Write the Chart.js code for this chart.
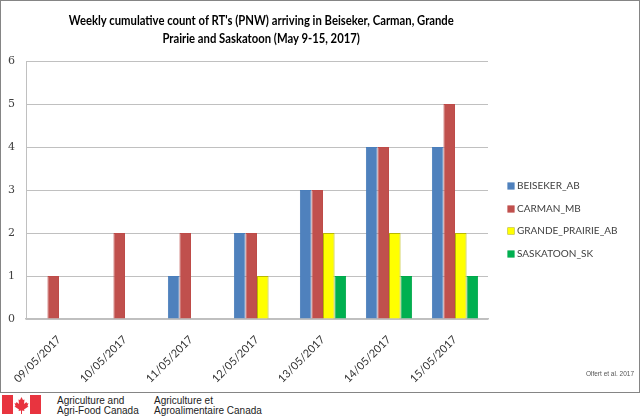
<!DOCTYPE html>
<html>
<head>
<meta charset="utf-8">
<script src="https://cdn.jsdelivr.net/npm/chart.js@4.4.1/dist/chart.umd.min.js"></script>
<style>
  body { margin: 0; background: #fff; width: 640px; height: 417px; overflow: hidden; position: relative; }
  #frame { position: absolute; left: 0; top: 0; width: 640px; height: 393px; box-sizing: border-box; border: 1px solid #858585; }
  #chart { position: absolute; left: 0; top: 0; }
  #title { position: absolute; left: 0; width: 522px; top: 11px; text-align: center; font: bold 13.5px Lato, sans-serif; line-height: 18px; color: #000; }
  #title span { display: inline-block; white-space: nowrap; transform-origin: center; }
  #legend { position: absolute; left: 508px; top: 178px; font: 10px Lato, sans-serif; color: #404040; }
  #legend div { height: 22.5px; line-height: 15px; white-space: nowrap; }
  #legend span { display: inline-block; width: 6px; height: 6px; margin-right: 3px; vertical-align: 0px; }
  #credit { position: absolute; right: 6px; top: 370px; font: 6.5px "Liberation Sans", sans-serif; color: #555; }
  .aafc { position: absolute; top: 396px; font: 10px "Liberation Sans", Arial, sans-serif; line-height: 10px; color: #222; }
</style>
</head>
<body>
<div id="frame"></div>
<canvas id="chart" width="640" height="392"></canvas>
<div id="title"><span>Weekly cumulative count of RT's (PNW) arriving in Beiseker, Carman, Grande</span><br><span>Prairie and Saskatoon (May 9-15, 2017)</span></div>
<div id="legend"></div>
<div id="credit">Olfert et al. 2017</div>
<svg style="position:absolute;left:2px;top:395px" width="39" height="19" viewBox="0 0 39 19">
  <rect x="0" y="0" width="11" height="19" fill="#e8343f"/>
  <rect x="28" y="0" width="11" height="19" fill="#e8343f"/>
  <path d="M19.5 2 L21 5 L22.5 4.5 L22 9 L24.5 7 L25 8.5 L26.5 8 L25.5 11 L26.5 11.5 L22 14.5 L22.5 16 L20 15.5 L20 19 L19 19 L19 15.5 L16.5 16 L17 14.5 L12.5 11.5 L13.5 11 L12.5 8 L14 8.5 L14.5 7 L17 9 L16.5 4.5 L18 5 Z" fill="#e8343f"/>
</svg>
<div class="aafc" style="left:57px">Agriculture and<br>Agri-Food Canada</div>
<div class="aafc" style="left:154px">Agriculture et<br>Agroalimentaire Canada</div>
<script>
// dates on the x axis
const dates = ['09/05/2017', '10/05/2017', '11/05/2017', '12/05/2017', '13/05/2017', '14/05/2017', '15/05/2017'];

// cumulative counts per station
const beiseker = [0, 0, 1, 2, 3, 4, 4];
const carman = [1, 2, 2, 2, 3, 4, 5];
const grandePrairie = [0, 0, 0, 1, 2, 2, 2];
const saskatoon = [0, 0, 0, 0, 1, 1, 1];

const yTicks = [0, 1, 2, 3, 4, 5, 6];

const series = [
    { label: 'BEISEKER_AB', data: beiseker, fill: '#4f81bd', edge: '#4a7ebb' },
    { label: 'CARMAN_MB', data: carman, fill: '#c0504d', edge: '#be4b48' },
    { label: 'GRANDE_PRAIRIE_AB', data: grandePrairie, fill: '#ffff00', edge: '#b8b800' },
    { label: 'SASKATOON_SK', data: saskatoon, fill: '#00b050', edge: '#00a84a' }
];

// squeeze the title lines to the narrow width of the original font
const firstLine = document.querySelector('#title span');
const squeeze = 385 / firstLine.getBoundingClientRect().width;
document.querySelectorAll('#title span').forEach(s => { s.style.transform = 'scaleX(' + squeeze + ')'; });

// legend on the right, built from the same list
const legend = document.getElementById('legend');
series.forEach(s => {
    let row = document.createElement('div');
    row.innerHTML = '<span style="background:' + s.fill + ';box-shadow:0 0 0 0.6px ' + s.edge + '"></span>' + s.label;
    legend.appendChild(row);
});

const config = {
    type: 'bar',
    data: {
        labels: dates,
        datasets: series.map(s => ({
            label: s.label,
            data: s.data,
            backgroundColor: s.fill,
            borderColor: s.edge,
            borderWidth: 1,
            categoryPercentage: 0.7,
            barPercentage: 1.0
        }))
    },
    options: {
        responsive: false,
        animation: false,
        layout: { padding: { top: 61, right: 152, left: 0, bottom: 0 } },
        plugins: {
            legend: { display: false },
            title: { display: false },
            tooltip: { enabled: false }
        },
        scales: {
            x: {
                grid: { display: false },
                border: { color: '#bfbfbf', width: 1.5 },
                ticks: {
                    minRotation: 45, maxRotation: 45,
                    padding: 6,
                    color: '#333',
                    font: { family: 'Lato', size: 11 }
                },
                afterFit: scale => { scale.height = 73; }
            },
            y: {
                min: 0, max: 6,
                afterBuildTicks: scale => { scale.ticks = yTicks.map(v => ({ value: v })); },
                grid: { color: '#c0c0c0', drawTicks: false },
                border: { color: '#c0c0c0' },
                ticks: {
                    padding: 11,
                    color: '#404040',
                    font: { family: "'DejaVu Serif', 'Liberation Serif', serif", size: 11 }
                },
                afterFit: scale => { scale.width = 26; }
            }
        }
    }
};

var ctx = document.getElementById('chart').getContext('2d');
new Chart(ctx, config);
</script>
</body>
</html>
